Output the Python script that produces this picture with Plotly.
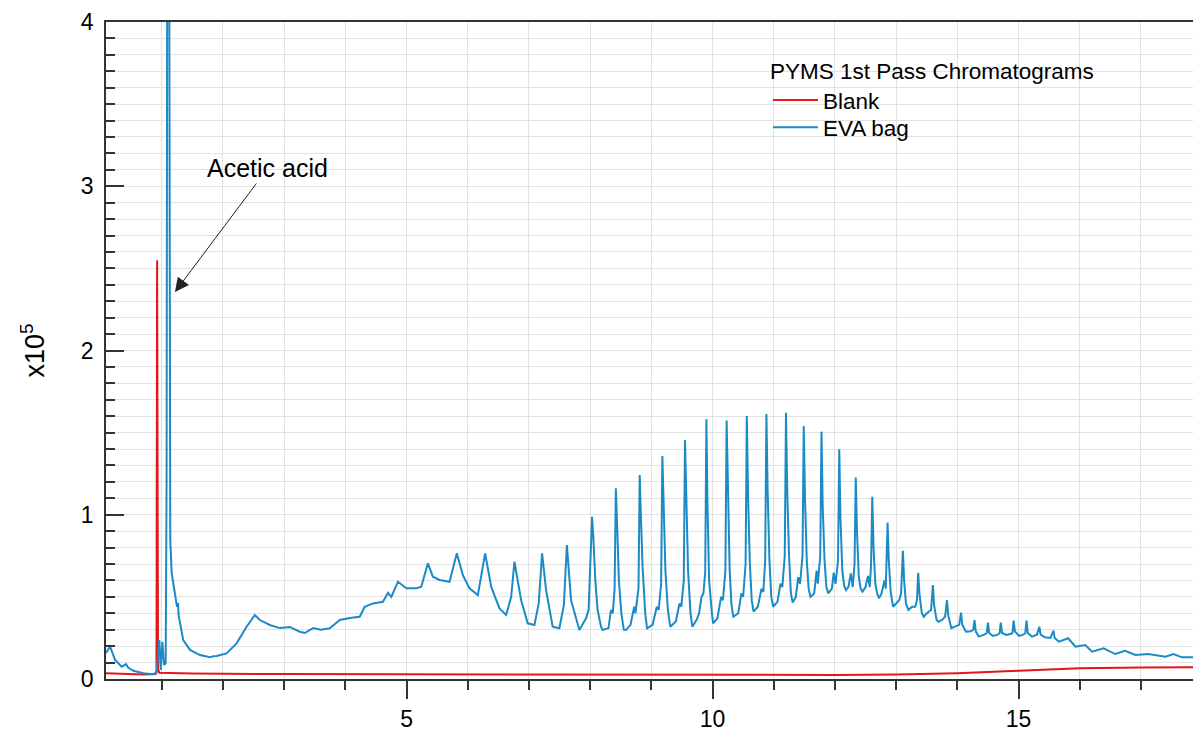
import plotly.graph_objects as go

# ---------------- data (retention time in min, intensity in units of 1e5) ----------------
eva_time = [
    0.09, 0.157, 0.238, 0.347, 0.418, 0.45, 0.537, 0.70, 0.863, 0.918,
    0.961, 0.984, 1.010, 1.038, 1.065, 1.080, 1.103, 1.128, 1.140, 1.163,
    1.217, 1.250, 1.268, 1.275, 1.352, 1.462, 1.625, 1.788, 1.85, 1.897,
    2.060, 2.224, 2.387, 2.522, 2.604, 2.767, 2.930, 3.093, 3.256, 3.338,
    3.473, 3.60, 3.746, 3.909, 4.072, 4.235, 4.317, 4.452, 4.615, 4.697,
    4.752, 4.860, 4.997, 5.160, 5.241, 5.349, 5.431, 5.540, 5.703, 5.822,
    5.920, 6.029, 6.165, 6.285, 6.383, 6.519, 6.628, 6.710, 6.763, 6.873,
    6.980, 7.090, 7.160, 7.215, 7.281, 7.388, 7.497, 7.571, 7.620, 7.688,
    7.824, 7.933, 7.975, 8.031, 8.052, 8.085, 8.122, 8.178, 8.204,
    8.30, 8.34, 8.37, 8.40, 8.42, 8.44, 8.47, 8.51, 8.55, 8.586,
    8.66, 8.72, 8.74, 8.79, 8.81, 8.83, 8.857, 8.90, 8.93,
    9.02, 9.09, 9.12, 9.16, 9.18, 9.20, 9.23, 9.27, 9.31,
    9.40, 9.46, 9.49, 9.53, 9.55, 9.57, 9.60, 9.64, 9.67,
    9.74, 9.78, 9.82, 9.85, 9.88, 9.90, 9.917, 9.944, 9.99, 10.01,
    10.08, 10.14, 10.17, 10.21, 10.23, 10.25, 10.28, 10.31, 10.34,
    10.42, 10.47, 10.50, 10.54, 10.56, 10.58, 10.61, 10.64, 10.67,
    10.74, 10.80, 10.83, 10.86, 10.88, 10.90, 10.93, 10.96, 10.99,
    11.06, 11.11, 11.14, 11.18, 11.20, 11.22, 11.25, 11.28, 11.31,
    11.36, 11.40, 11.43, 11.47, 11.49, 11.51, 11.54, 11.57, 11.60,
    11.66, 11.70, 11.72, 11.76, 11.78, 11.80, 11.83, 11.86, 11.89,
    11.95, 11.98, 12.01, 12.05, 12.07, 12.09, 12.12, 12.15, 12.18,
    12.22, 12.26, 12.29, 12.32, 12.34, 12.36, 12.39, 12.42, 12.45,
    12.50, 12.54, 12.57, 12.59, 12.61, 12.63, 12.66, 12.69, 12.72,
    12.76, 12.81, 12.83, 12.86, 12.88, 12.91, 12.95,
    13.00, 13.05, 13.08, 13.11, 13.13, 13.16, 13.20,
    13.26, 13.31, 13.34, 13.36, 13.38, 13.42, 13.45,
    13.50, 13.57, 13.60, 13.62, 13.66, 13.69,
    13.75, 13.80, 13.83, 13.85, 13.90,
    13.97, 14.03, 14.06, 14.08, 14.14,
    14.22, 14.26, 14.28, 14.30, 14.35,
    14.44, 14.48, 14.50, 14.52, 14.58,
    14.66, 14.69, 14.71, 14.73, 14.80,
    14.88, 14.90, 14.92, 14.94, 15.01,
    15.08, 15.11, 15.13, 15.15, 15.22,
    15.30, 15.34, 15.36, 15.43,
    15.52, 15.57, 15.59, 15.66,
    15.81, 15.93, 16.09, 16.20, 16.39, 16.58, 16.74, 16.91, 17.12, 17.40,
    17.53, 17.67, 17.85,
]
eva_signal = [
    0.158, 0.197, 0.116, 0.075, 0.091, 0.07, 0.05, 0.035, 0.029, 0.04,
    0.237, 0.055, 0.227, 0.085, 0.097, 1.2, 8.5, 4.5, 0.85, 0.645,
    0.50, 0.44, 0.463, 0.39, 0.237, 0.177, 0.146, 0.132, 0.138, 0.14,
    0.156, 0.217, 0.318, 0.39, 0.359, 0.329, 0.31, 0.317, 0.288, 0.28,
    0.31, 0.30, 0.309, 0.359, 0.371, 0.379, 0.44, 0.46, 0.47, 0.525,
    0.50, 0.592, 0.552, 0.552, 0.562, 0.704, 0.623, 0.603, 0.592, 0.765,
    0.633, 0.552, 0.511, 0.765, 0.562, 0.43, 0.39, 0.50, 0.714, 0.48,
    0.339, 0.329, 0.46, 0.765, 0.54, 0.318, 0.309, 0.45, 0.816, 0.48,
    0.298, 0.37, 0.42, 0.988, 0.866, 0.60, 0.42, 0.318, 0.298,
    0.31, 0.42, 0.40, 0.55, 1.161, 0.95, 0.60, 0.40, 0.30, 0.298,
    0.33, 0.44, 0.40, 0.55, 1.242, 0.988, 0.684, 0.40, 0.309,
    0.33, 0.44, 0.42, 0.58, 1.358, 1.05, 0.66, 0.42, 0.318,
    0.35, 0.46, 0.44, 0.60, 1.455, 1.10, 0.66, 0.40, 0.318,
    0.36, 0.40, 0.50, 0.52, 0.65, 1.581, 1.07, 0.60, 0.40, 0.339,
    0.37, 0.50, 0.48, 0.66, 1.573, 1.10, 0.66, 0.45, 0.379,
    0.40, 0.52, 0.50, 0.70, 1.601, 1.12, 0.70, 0.48, 0.41,
    0.44, 0.55, 0.53, 0.72, 1.613, 1.15, 0.72, 0.50, 0.44,
    0.47, 0.58, 0.56, 0.75, 1.621, 1.15, 0.75, 0.52, 0.465,
    0.50, 0.62, 0.58, 0.75, 1.54, 1.10, 0.72, 0.55, 0.50,
    0.52, 0.66, 0.58, 0.75, 1.506, 1.05, 0.72, 0.56, 0.522,
    0.55, 0.647, 0.58, 0.72, 1.398, 0.98, 0.66, 0.57, 0.542,
    0.56, 0.643, 0.56, 0.70, 1.226, 0.90, 0.62, 0.55, 0.532,
    0.56, 0.628, 0.56, 0.70, 1.11, 0.80, 0.58, 0.52, 0.491,
    0.52, 0.60, 0.55, 0.952, 0.72, 0.53, 0.44,
    0.46, 0.48, 0.52, 0.781, 0.60, 0.46, 0.42,
    0.44, 0.44, 0.48, 0.647, 0.52, 0.40, 0.379,
    0.40, 0.42, 0.572, 0.45, 0.36, 0.349,
    0.36, 0.38, 0.481, 0.39, 0.31,
    0.32, 0.33, 0.404, 0.33, 0.288,
    0.29, 0.30, 0.359, 0.29, 0.258,
    0.27, 0.28, 0.343, 0.28, 0.262,
    0.27, 0.28, 0.343, 0.28, 0.268,
    0.275, 0.28, 0.355, 0.29, 0.262,
    0.27, 0.28, 0.355, 0.28, 0.258,
    0.27, 0.318, 0.27, 0.254,
    0.25, 0.294, 0.25, 0.227,
    0.248, 0.197, 0.207, 0.166, 0.187, 0.152, 0.172, 0.146, 0.152, 0.136,
    0.152, 0.132, 0.132,
]

blank_time = [0.09, 0.40, 0.70, 0.90, 0.915, 0.925, 0.94, 0.96, 1.5, 3.0,
              5.0, 7.0, 9.0, 11.0, 12.0, 13.0, 14.0, 15.0, 16.0, 17.0, 17.85]
blank_signal = [0.035, 0.03, 0.028, 0.03, 0.05, 2.55, 0.06, 0.038, 0.033, 0.03,
                0.028, 0.028, 0.027, 0.025, 0.025, 0.028, 0.035, 0.05, 0.065, 0.07, 0.072]

x_major_ticks = [5, 10, 15]
y_major_ticks = [0, 1, 2, 3, 4]
y_mid_ticks = [0.5, 1.5, 2.5, 3.5]

legend_title = "PYMS 1st Pass Chromatograms"
annot_text = "Acetic acid"
annot_x, annot_y = 1.217, 2.356

# ---------------- styling ----------------
FONT = "Arial, Liberation Sans, sans-serif"
AX = "#333333"
GRID = "#e2e2e2"
RED = "#e3161b"
BLUE = "#1b8bc6"
LEG_FS = 22.5

fig = go.Figure()
fig.add_trace(go.Scatter(x=blank_time, y=blank_signal, mode="lines", name="Blank",
                         line=dict(color=RED, width=2), legend="legend"))
fig.add_trace(go.Scatter(x=eva_time, y=eva_signal, mode="lines", name="EVA bag",
                         line=dict(color=BLUE, width=2), legend="legend2"))

fig.update_layout(
    width=1193, height=731,
    margin=dict(l=106, r=0, t=22, b=52),
    paper_bgcolor="white", plot_bgcolor="white",
    font=dict(family=FONT, size=23, color="black"),
    showlegend=True,
    legend=dict(
        title=dict(text=legend_title, font=dict(size=LEG_FS)),
        x=0.609, y=0.958, xanchor="left", yanchor="top",
        bgcolor="rgba(0,0,0,0)", borderwidth=0, font=dict(size=LEG_FS),
        itemwidth=45, tracegroupgap=0,
    ),
    legend2=dict(
        x=0.609, y=0.872, xanchor="left", yanchor="top",
        bgcolor="rgba(0,0,0,0)", borderwidth=0, font=dict(size=LEG_FS),
        itemwidth=45, tracegroupgap=0,
    ),
    xaxis=dict(
        range=[0.09, 17.85], showline=True, linecolor=AX, linewidth=1.5, mirror=True,
        tickvals=x_major_ticks, ticks="outside", ticklen=18, tickwidth=1.5, tickcolor=AX,
        ticklabelstandoff=1, showgrid=True, gridcolor=GRID, gridwidth=1,
        minor=dict(dtick=1, tick0=0, ticks="outside", ticklen=9, tickwidth=1.5,
                   tickcolor=AX, showgrid=True, gridcolor=GRID, gridwidth=1),
        zeroline=False, automargin=False, tickfont=dict(size=23),
    ),
    yaxis=dict(
        range=[0, 4], showline=True, linecolor=AX, linewidth=1.5,
        tickvals=y_major_ticks, ticks="inside", ticklen=18, tickwidth=1.5, tickcolor=AX,
        ticklabelstandoff=6, showgrid=True, gridcolor=GRID, gridwidth=1,
        minor=dict(dtick=0.1, tick0=0, ticks="inside", ticklen=9, tickwidth=1.5,
                   tickcolor=AX, showgrid=True, gridcolor=GRID, gridwidth=1),
        zeroline=False, automargin=False, tickfont=dict(size=23),
    ),
    yaxis2=dict(
        range=[0, 4], overlaying="y", anchor="x", side="left",
        tickvals=y_mid_ticks, ticks="inside", ticklen=13, tickwidth=1.5, tickcolor=AX,
        showticklabels=False, showgrid=False, showline=False, zeroline=False,
    ),
)

fig.add_annotation(
    x=annot_x, y=annot_y, xref="x", yref="y", text=annot_text,
    showarrow=True, ax=93, ay=-124, arrowhead=2, arrowsize=2.8, arrowwidth=1,
    arrowcolor="#222222", font=dict(size=25, color="black"),
)
fig.add_annotation(
    x=-0.068, y=0.5, xref="paper", yref="paper", text="x10<sup>5</sup>",
    showarrow=False, textangle=-90, font=dict(size=27, color="black"),
    xanchor="center", yanchor="middle",
)

fig.write_html("out.html")
